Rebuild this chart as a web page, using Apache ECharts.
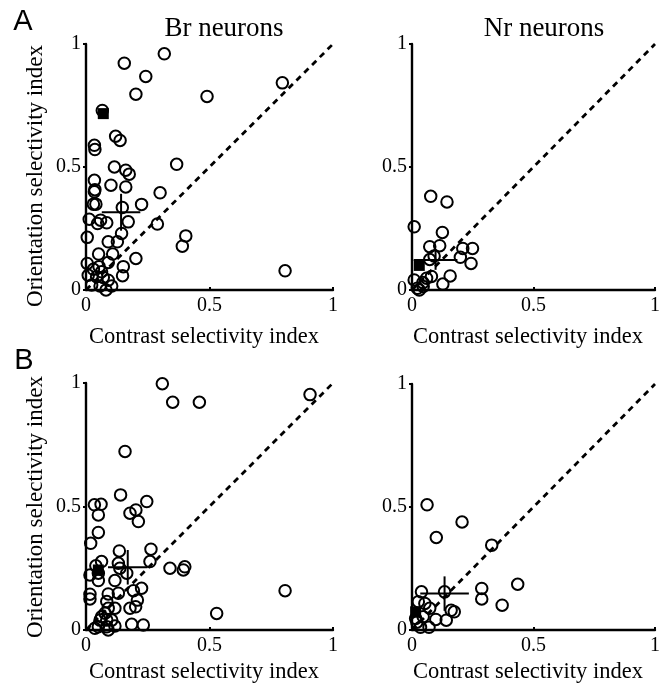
<!DOCTYPE html>
<html>
<head>
<meta charset="utf-8">
<script src="https://cdn.jsdelivr.net/npm/echarts@6/dist/echarts.min.js"></script>
<style>
html,body{margin:0;padding:0;background:#fff;}
#chart{width:663px;height:688px;}
</style>
</head>
<body>
<div id="chart"></div>
<script>
// ---- data ----
const tickValues = [0, 0.5, 1];
const panelTitles = ['Br neurons', 'Nr neurons'];
const panelLetters = ['A', 'B'];
const xAxisName = 'Contrast selectivity index';
const yAxisName = 'Orientation selectivity index';

// Panel A, Br neurons
const brA_csi = [0.317,0.155,0.242,0.202,0.490,0.795,0.066,0.120,0.138,0.034,0.036,0.115,0.161,0.175,0.367,0.034,0.101,0.161,0.036,0.034,0.300,0.030,0.040,0.225,0.147,0.013,0.059,0.047,0.084,0.171,0.289,0.144,0.005,0.090,0.127,0.404,0.390,0.051,0.108,0.202,0.005,0.151,0.148,0.806,0.009,0.030,0.053,0.063,0.043,0.070,0.023,0.057,0.081,0.104,0.090,0.090];
const brA_osi = [0.960,0.922,0.868,0.796,0.787,0.842,0.730,0.625,0.608,0.588,0.571,0.500,0.487,0.471,0.511,0.446,0.426,0.419,0.408,0.399,0.395,0.349,0.349,0.348,0.335,0.288,0.284,0.270,0.273,0.277,0.268,0.230,0.214,0.196,0.196,0.220,0.178,0.146,0.146,0.128,0.108,0.095,0.058,0.078,0.060,0.084,0.095,0.074,0.054,0.051,0.020,0.016,0.000,0.016,0.040,0.112];
// Panel A, Nr neurons
const nrA_csi = [0.077,0.144,0.009,0.125,0.073,0.114,0.209,0.249,0.199,0.243,0.091,0.073,0.157,0.127,0.009,0.060,0.080,0.022,0.046,0.030,0.045];
const nrA_osi = [0.381,0.358,0.257,0.234,0.176,0.180,0.169,0.169,0.133,0.108,0.138,0.124,0.057,0.024,0.041,0.048,0.055,0.007,0.014,0.000,0.030];
// Panel B, Br neurons
const brB_csi = [0.309,0.351,0.459,0.907,0.158,0.140,0.246,0.202,0.178,0.212,0.034,0.061,0.050,0.050,0.019,0.135,0.263,0.259,0.131,0.063,0.040,0.137,0.340,0.394,0.400,0.016,0.050,0.050,0.165,0.117,0.225,0.192,0.131,0.090,0.016,0.016,0.208,0.201,0.178,0.117,0.806,0.529,0.084,0.090,0.077,0.063,0.057,0.084,0.104,0.050,0.084,0.117,0.036,0.090,0.185,0.232];
const brB_osi = [0.997,0.922,0.922,0.953,0.723,0.547,0.520,0.486,0.473,0.439,0.507,0.509,0.466,0.395,0.351,0.320,0.327,0.277,0.270,0.277,0.260,0.250,0.250,0.243,0.256,0.223,0.230,0.200,0.230,0.200,0.169,0.159,0.149,0.146,0.145,0.126,0.121,0.094,0.088,0.088,0.159,0.067,0.115,0.088,0.068,0.054,0.040,0.040,0.040,0.013,0.013,0.016,0.007,0.000,0.023,0.020];
// Panel B, Nr neurons
const nrB_csi = [0.062,0.206,0.100,0.328,0.435,0.287,0.287,0.371,0.039,0.134,0.026,0.053,0.073,0.161,0.174,0.098,0.141,0.015,0.035,0.070,0.046,0.020];
const nrB_osi = [0.509,0.439,0.376,0.345,0.186,0.169,0.126,0.101,0.155,0.155,0.115,0.108,0.088,0.080,0.074,0.043,0.040,0.047,0.011,0.011,0.054,0.032];

// filled squares (one per panel: A-Br, A-Nr, B-Br, B-Nr)
const squareCsi = [0.070, 0.030, 0.050, 0.015];
const squareOsi = [0.717, 0.100, 0.243, 0.074];
// mean cross (centre and half-lengths)
const meanCsi = [0.142, 0.097, 0.169, 0.134];
const meanOsi = [0.316, 0.122, 0.254, 0.148];
const errCsi = [0.078, 0.090, 0.080, 0.100];
const errOsi = [0.075, 0.040, 0.070, 0.070];

// ---- layout ----
const serif = 'Liberation Serif';
const grids = [
  {left: 86, top: 44, width: 247, height: 246},
  {left: 412, top: 44, width: 246, height: 246},
  {left: 86, top: 383, width: 247, height: 247},
  {left: 412, top: 384, width: 246, height: 246}
];
const csiSets = [brA_csi, nrA_csi, brB_csi, nrB_csi];
const osiSets = [brA_osi, nrA_osi, brB_osi, nrB_osi];

const xAxes = [], yAxes = [], series = [];
grids.forEach((g, i) => {
  const common = {
    type: 'value', gridIndex: i, min: tickValues[0], max: tickValues[2],
    interval: tickValues[1] - tickValues[0],
    splitLine: {show: false},
    axisLine: {show: true, onZero: false, lineStyle: {color: '#000', width: 2.4}},
    axisLabel: {color: '#000', fontSize: 20, fontFamily: serif,
      formatter: v => String(v)}
  };
  xAxes.push(Object.assign({}, common, {
    axisTick: {show: true, inside: true, length: 3, lineStyle: {color: '#000', width: 2}},
    axisLabel: Object.assign({}, common.axisLabel, {margin: 6})
  }));
  yAxes.push(Object.assign({}, common, {
    axisTick: {show: true, inside: false, length: 3, lineStyle: {color: '#000', width: 2}},
    axisLabel: Object.assign({}, common.axisLabel, {margin: 5})
  }));
  // diagonal
  series.push({
    type: 'line', xAxisIndex: i, yAxisIndex: i, data: [[0, 0], [1, 1]],
    symbol: 'none', silent: true, z: 1,
    lineStyle: {color: '#000', width: 2.8, type: [6, 5]}
  });
  // circles
  series.push({
    type: 'scatter', xAxisIndex: i, yAxisIndex: i,
    data: csiSets[i].map((x, k) => [x, osiSets[i][k]]),
    symbol: 'circle', symbolSize: 11.5, z: 2,
    itemStyle: {color: 'rgba(0,0,0,0)', borderColor: '#000', borderWidth: 2, opacity: 1}
  });
  // mean cross
  series.push({
    type: 'line', xAxisIndex: i, yAxisIndex: i, symbol: 'none', z: 3,
    data: [[meanCsi[i] - errCsi[i], meanOsi[i]], [meanCsi[i] + errCsi[i], meanOsi[i]]],
    lineStyle: {color: '#000', width: 2}
  });
  series.push({
    type: 'line', xAxisIndex: i, yAxisIndex: i, symbol: 'none', z: 3,
    data: [[meanCsi[i], meanOsi[i] - errOsi[i]], [meanCsi[i], meanOsi[i] + errOsi[i]]],
    lineStyle: {color: '#000', width: 2}
  });
  // filled square
  series.push({
    type: 'scatter', xAxisIndex: i, yAxisIndex: i,
    data: [[squareCsi[i], squareOsi[i]]],
    symbol: 'rect', symbolSize: 11, z: 4,
    itemStyle: {color: '#000', opacity: 1}
  });
});

const txt = (x, y, text, size, family, extra) => Object.assign({
  type: 'text', x: x, y: y,
  style: {text: text, font: size + 'px "' + family + '"', fill: '#000',
    textAlign: 'center', textVerticalAlign: 'middle'}
}, extra || {});

const graphic = [
  txt(23, 22, panelLetters[0], 29, 'Liberation Sans'),
  txt(24, 361, panelLetters[1], 29, 'Liberation Sans'),
  txt(224, 29, panelTitles[0], 27, serif),
  txt(544, 29, panelTitles[1], 27, serif),
  txt(204, 337, xAxisName, 22.5, serif),
  txt(528, 337, xAxisName, 22.5, serif),
  txt(204, 672, xAxisName, 22.5, serif),
  txt(528, 672, xAxisName, 22.5, serif),
  txt(36, 176, yAxisName, 23, serif, {rotation: Math.PI / 2}),
  txt(36, 507, yAxisName, 23, serif, {rotation: Math.PI / 2})
];

const chart = echarts.init(document.getElementById('chart'), null, {renderer: 'canvas'});
chart.setOption({
  animation: false,
  backgroundColor: '#fff',
  grid: grids,
  xAxis: xAxes,
  yAxis: yAxes,
  series: series,
  graphic: graphic
});
</script>
</body>
</html>
